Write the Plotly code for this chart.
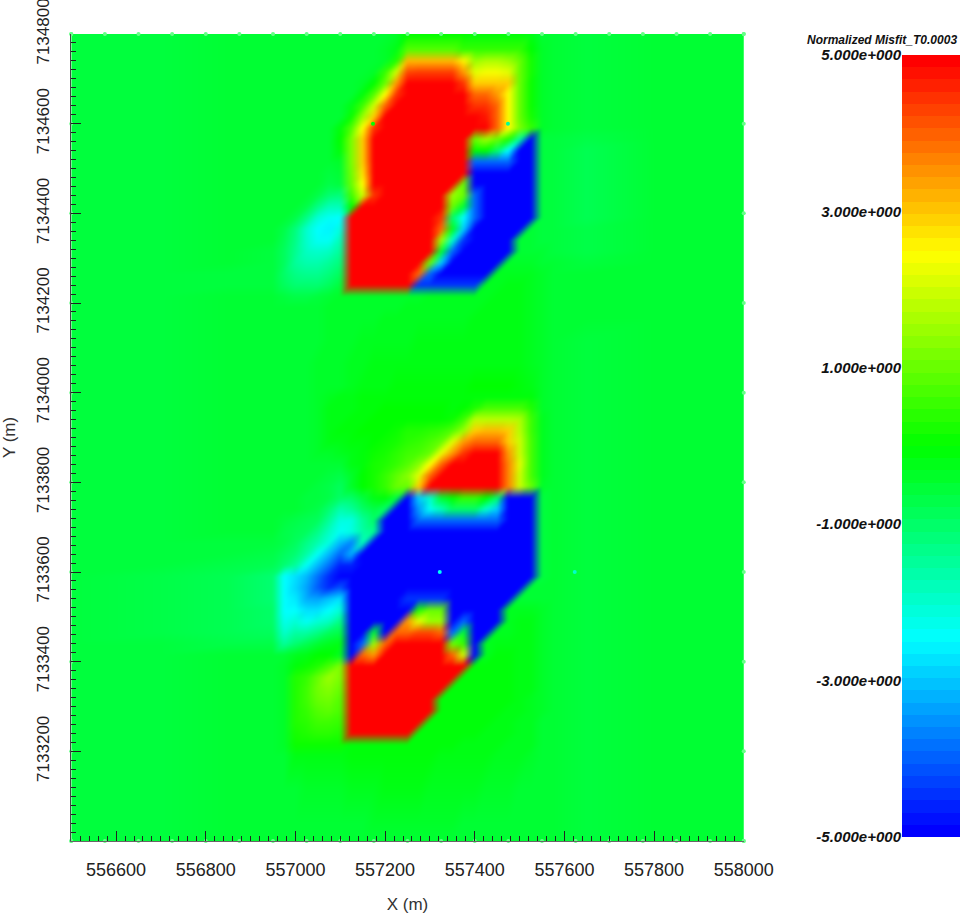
import numpy as np
import plotly.graph_objects as go

# Grid coordinates of the misfit field: coarse in the quiet margins, 25 m across the anomalies.
grid_x = [556500, 556700, 556850,
          556950, 556975, 557000, 557025, 557050, 557075,
          557100, 557125, 557150, 557175, 557200, 557225,
          557250, 557275, 557300, 557325, 557350, 557375,
          557400, 557425, 557450, 557475, 557500, 557525,
          557550, 557575,
          557650, 557800, 558000]

grid_y = [7134800, 7134765, 7134740, 7134715, 7134690, 7134665, 7134640, 7134615,
          7134590, 7134565, 7134540, 7134515, 7134490, 7134465, 7134440, 7134415,
          7134390, 7134365, 7134340, 7134315, 7134290, 7134265, 7134240, 7134215,
          7134190, 7134165, 7134115, 7134065, 7134015,
          7133990, 7133965, 7133940, 7133915, 7133890, 7133865, 7133840, 7133815,
          7133790, 7133765, 7133740, 7133715, 7133690, 7133665, 7133640, 7133615,
          7133590, 7133565, 7133540, 7133515, 7133490, 7133465, 7133440, 7133415,
          7133390, 7133365, 7133340, 7133315, 7133290, 7133265, 7133240, 7133215,
          7133190, 7133115, 7133040, 7133000]

# Normalized misfit, one row per grid_y entry, north to south.
misfit = [
[-.6,-.6,-.5, -.5,-.5,-.5,-.5,-.5,-.5, -.5,-.5,-.5,-.5,-.5,-.4, 0,0,0,0,0,0, -.1,-.1,-.1,-.1,-.1,-.2, -.5,-.5, -.6,-.5,-.5],
[-.6,-.6,-.5, -.5,-.5,-.5,-.5,-.5,-.5, -.5,-.5,-.5,-.5,-.4,-.2, .8,.8,.8,.8,.8,.5, .5,.5,.5,.5,.5,0, -.4,-.5, -.6,-.5,-.5],
[-.6,-.6,-.5, -.5,-.5,-.5,-.5,-.5,-.5, -.5,-.5,-.5,-.5,-.4,.3, 3.2,3.2,3.2,3.2,3.2,2.6, 1.5,1.7,1.7,1.5,1,.2, -.4,-.5, -.6,-.5,-.5],
[-.6,-.6,-.5, -.5,-.5,-.5,-.5,-.5,-.5, -.5,-.5,-.5,-.4,.5,2, 4.3,4.4,4.4,4.4,4.4,3.5, 2.2,2.4,2.4,2.2,1,.2, -.4,-.5, -.6,-.5,-.5],
[-.6,-.6,-.5, -.5,-.5,-.5,-.5,-.5,-.5, -.5,-.5,-.4,0,1,3.5, 5,5,5,5,5,4.5, 3,3,3,3,1,.1, -.4,-.5, -.6,-.5,-.5],
[-.6,-.6,-.5, -.5,-.5,-.5,-.5,-.5,-.5, -.5,-.5,-.1,.8,2.5,4.5, 5,5,5,5,5,5, 4,4,3.5,2.5,1,.1, -.4,-.5, -.6,-.5,-.5],
[-.6,-.6,-.5, -.5,-.5,-.5,-.5,-.5,-.5, -.5,-.2,.6,2,4,5, 5,5,5,5,5,5, 4.5,4.5,4,2.5,1,.1, -.4,-.5, -.6,-.5,-.5],
[-.6,-.6,-.5, -.5,-.5,-.5,-.5,-.5,-.5, -.5,.1,1.5,3,5,5, 5,5,5,5,5,5, 5,4.8,4,2.5,1,.2, -.4,-.5, -.6,-.5,-.5],
[-.6,-.6,-.5, -.5,-.5,-.5,-.5,-.5,-.5, -.1,.8,2.5,4.5,5,5, 5,5,5,5,5,5, 5,5,4,2.5,1.2,.5, -.4,-.5, -.6,-.5,-.5],
[-.6,-.6,-.5, -.5,-.5,-.5,-.5,-.5,-.5, 0,1.2,3,5,5,5, 5,5,5,5,5,5, 1,1.5,1,.3,-1.5,-5, -.6,-.6, -.7,-.5,-.5],
[-.6,-.6,-.5, -.5,-.5,-.5,-.5,-.5,-.5, -.1,1.2,3,5,5,5, 5,5,5,5,5,5, 0,0,-1,-2.5,-5,-5, -.6,-.6, -.8,-.5,-.5],
[-.6,-.6,-.5, -.5,-.5,-.5,-.5,-.5,-.5, -.4,1.2,3,5,5,5, 5,5,5,5,5,5, -4,-4,-4,-4,-5,-5, -.6,-.6, -.8,-.5,-.5],
[-.6,-.6,-.5, -.5,-.5,-.5,-.5,-.5,-.6, -.5,1.1,2.8,5,5,5, 5,5,5,5,5,5, -5,-5,-5,-5,-5,-5, -.6,-.6, -.8,-.5,-.5],
[-.6,-.6,-.5, -.5,-.5,-.5,-.5,-.5,-.7, -.6,1,2.5,5,5,5, 5,5,5,5,5,1, -5,-5,-5,-5,-5,-5, -.6,-.6, -.8,-.5,-.5],
[-.6,-.6,-.5, -.5,-.5,-.5,-.5,-.7,-1.1, -1.2,.6,2,4.5,5,5, 5,5,5,5,1.5,1, -4,-5,-5,-5,-5,-5, -.6,-.6, -.8,-.5,-.5],
[-.6,-.6,-.5, -.5,-.5,-.5,-.7,-1.3,-1.8, -1.8,0,5,5,5,5, 5,5,5,5,1,-.5, -4,-5,-5,-5,-5,-5, -.6,-.6, -.8,-.5,-.5],
[-.6,-.6,-.5, -.5,-.5,-.7,-1.3,-2.1,-2.4, -2.5,5,5,5,5,5, 5,5,5,4.5,-1,-2.5, -4,-5,-5,-5,-5,-5, -.6,-.6, -.8,-.5,-.5],
[-.6,-.6,-.5, -.5,-.7,-1.2,-2,-2.5,-2.6, -2.2,5,5,5,5,5, 5,5,5,4,-.3,-3, -5,-5,-5,-5,-5,-.5, -.6,-.6, -.7,-.5,-.5],
[-.6,-.6,-.5, -.5,-.8,-1.3,-2,-2.4,-2.4, -1.8,5,5,5,5,5, 5,5,5,1.5,-2,-4.5, -5,-5,-5,-5,-.5,-.5, -.6,-.6, -.7,-.5,-.5],
[-.6,-.6,-.5, -.6,-.9,-1.4,-1.9,-2,-1.9, -1.5,5,5,5,5,5, 5,5,5,-.5,-4,-5, -5,-5,-5,-5,-.5,-.5, -.5,-.6, -.7,-.5,-.5],
[-.6,-.6,-.5, -.6,-.9,-1.5,-1.7,-1.7,-1.5, -1.2,5,5,5,5,5, 5,5,1,-3,-5,-5, -5,-5,-5,-.4,-.4,-.4, -.5,-.5, -.6,-.5,-.5],
[-.6,-.6,-.6, -.6,-1,-1.3,-1.4,-1.4,-1.2, -.9,5,5,5,5,5, 5,4,-4,-5,-5,-5, -5,-5,-.3,-.3,-.3,-.3, -.4,-.5, -.5,-.5,-.5],
[-.6,-.6,-.6, -.6,-.9,-1.1,-1.1,-1.1,-.9, -.6,5,5,5,5,5, 5,-4.5,-4.5,-4.5,-4.5,-4.5, -4.5,-.3,-.3,-.2,-.2,-.3, -.4,-.5, -.5,-.5,-.5],
[-.6,-.6,-.5, -.5,-.6,-.7,-.7,-.6,-.5, -.4,-.4,-.4,-.4,-.4,-.4, -.4,-.4,-.3,-.3,-.3,-.3, -.3,-.3,-.2,-.2,-.2,-.3, -.4,-.5, -.5,-.5,-.5],
[-.6,-.6,-.5, -.5,-.5,-.5,-.5,-.5,-.4, -.4,-.4,-.4,-.4,-.4,-.4, -.3,-.3,-.3,-.3,-.3,-.3, -.3,-.2,-.2,-.2,-.2,-.3, -.4,-.5, -.5,-.5,-.5],
[-.6,-.6,-.5, -.5,-.5,-.5,-.5,-.5,-.4, -.4,-.4,-.4,-.4,-.3,-.3, -.3,-.3,-.3,-.3,-.3,-.3, -.2,-.2,-.2,-.2,-.2,-.3, -.4,-.5, -.5,-.5,-.5],
[-.6,-.6,-.5, -.5,-.5,-.5,-.5,-.5,-.4, -.4,-.4,-.3,-.3,-.3,-.3, -.3,-.2,-.2,-.2,-.2,-.2, -.2,-.2,-.2,-.2,-.2,-.3, -.4,-.5, -.6,-.5,-.5],
[-.6,-.6,-.5, -.5,-.5,-.5,-.5,-.4,-.4, -.4,-.3,-.3,-.2,-.2,-.2, -.2,-.2,-.2,-.2,-.2,-.2, -.2,-.2,-.2,-.2,-.2,-.3, -.4,-.5, -.6,-.5,-.5],
[-.6,-.6,-.5, -.5,-.5,-.5,-.5,-.4,-.4, -.4,-.3,-.2,-.2,-.2,-.1, -.1,-.1,-.1,-.1,-.1,-.1, 0,0,0,0,-.1,-.2, -.4,-.5, -.6,-.5,-.5],
[-.6,-.6,-.5, -.5,-.5,-.5,-.5,-.4,-.3, -.2,-.2,-.1,-.1,-.1,-.1, -.1,-.1,-.1,-.1,-.1,-.1, -.1,-.1,-.1,-.1,-.1,-.1, -.4,-.5, -.6,-.5,-.5],
[-.6,-.6,-.5, -.5,-.5,-.5,-.5,-.4,-.2, -.2,-.2,-.1,-.1,0,0, 0,0,0,0,-.1,0, .3,.7,.7,.7,.7,.3, -.4,-.5, -.6,-.5,-.5],
[-.6,-.6,-.5, -.5,-.5,-.5,-.5,-.4,-.2, -.2,-.1,-.1,0,0,0, 0,0,0,0,.1,.6, 1.8,1.8,1.8,1.8,1.7,.6, -.3,-.5, -.6,-.5,-.5],
[-.6,-.6,-.5, -.5,-.5,-.5,-.5,-.4,-.2, -.1,-.1,0,0,0,.1, .3,.3,.4,.5,.8,1.5, 3,3.2,3.2,3,1.8,.6, -.3,-.5, -.6,-.5,-.5],
[-.6,-.6,-.5, -.5,-.5,-.5,-.5,-.4,-.2, -.2,-.1,-.1,0,.1,.2, .4,.5,.7,1,2.2,3.5, 4,4,4,3,2,.7, -.3,-.5, -.6,-.5,-.5],
[-.6,-.6,-.5, -.5,-.5,-.5,-.5,-.4,-.4, -.3,-.2,-.1,.1,.2,.4, .6,.7,1,2.3,3.5,4.5, 5,5,5,3.5,2,.7, -.3,-.5, -.6,-.5,-.5],
[-.6,-.6,-.5, -.5,-.5,-.5,-.5,-.5,-.5, -.5,-.2,-.1,.2,.3,.5, .8,1.3,2.5,4,5,5, 5,5,5,3.7,2.2,.7, -.3,-.5, -.6,-.5,-.5],
[-.6,-.6,-.5, -.5,-.5,-.5,-.5,-.5,-.6, -.7,-.4,0,.2,.5,.9, 1.3,2.2,4,5,5,5, 5,5,5,3.7,2,.7, -.3,-.5, -.6,-.5,-.5],
[-.6,-.6,-.5, -.5,-.5,-.5,-.5,-.6,-.7, -.9,-.4,0,.2,.5,1, 1,3,5,5,5,5, 5,5,5,3.7,2,1, -.4,-.5, -.6,-.5,-.5],
[-.6,-.6,-.5, -.5,-.5,-.5,-.6,-.6,-.7, -1,-1,-.6,-.2,-.1,-.6, -5,-3,-2,-.5,0,.5, .5,0,-1,-5,-5,-5, -.6,-.5, -.6,-.5,-.5],
[-.6,-.6,-.5, -.5,-.5,-.5,-.6,-.7,-1.1, -1.7,-1.5,-1,-.7,-1,-5, -5,-3.5,-2.4,-1.8,-1,-1, -1,-2,-3,-5,-5,-5, -.6,-.5, -.6,-.5,-.5],
[-.6,-.6,-.5, -.5,-.6,-.7,-.8,-.9,-1.5, -2.2,-2.2,-1.5,-1,-5,-5, -5,-4,-4,-4,-4,-4, -4,-4,-4,-5,-5,-5, -.6,-.5, -.6,-.5,-.5],
[-.6,-.6,-.5, -.5,-.7,-.8,-.9,-1.3,-1.9, -2.4,-2.2,-1.6,-1.4,-5,-5, -5,-5,-5,-5,-5,-5, -5,-5,-5,-5,-5,-5, -.6,-.5, -.6,-.5,-.5],
[-.6,-.6,-.6, -.6,-.7,-.9,-1.3,-1.7,-2.2, -3.2,-3.7,-1.8,-5,-5,-5, -5,-5,-5,-5,-5,-5, -5,-5,-5,-5,-5,-5, -.6,-.5, -.6,-.5,-.5],
[-.6,-.6,-.6, -.7,-.9,-1.1,-1.6,-2.4,-3.2, -4,-3.3,-5,-5,-5,-5, -5,-5,-5,-5,-5,-5, -5,-5,-5,-5,-5,-5, -.6,-.5, -.6,-.5,-.5],
[-.6,-.6,-.7, -.8,-1.1,-1.5,-2.4,-3.2,-3.9, -4.7,-4.7,-5,-5,-5,-5, -5,-5,-5,-5,-5,-5, -5,-5,-5,-5,-5,-5, -.6,-.5, -.6,-.5,-.5],
[-.6,-.7,-.8, -1.1,-2.5,-2.8,-3.2,-3.9,-4.6, -5,-5,-5,-5,-5,-5, -5,-5,-5,-5,-5,-5, -5,-5,-5,-5,-5,-5, -.6,-.5, -.6,-.5,-.5],
[-.6,-.7,-.8, -1.1,-2.5,-2.9,-3.4,-4.1,-4.6, -4.2,-5,-5,-5,-5,-5, -5,-5,-5,-5,-5,-5, -5,-5,-5,-5,-5,-.5, -.5,-.5, -.6,-.5,-.5],
[-.6,-.7,-.8, -1.1,-2.5,-2.7,-3.3,-3.4,-3.1, -2.8,-5,-5,-5,-5,-5, -4.5,-4.5,-4.5,-4.5,-5,-5, -5,-5,-5,-5,-.5,-.5, -.5,-.5, -.6,-.5,-.5],
[-.6,-.7,-.8, -1,-2.5,-2.5,-2.8,-2.8,-2.5, -2.1,-5,-5,-5,-5,-5, -5,.3,1,1,-5,-5, -5,-5,-5,-.3,-.3,-.3, -.4,-.5, -.6,-.5,-.5],
[-.6,-.7,-.8, -1,-2.3,-2.1,-2.4,-2.1,-1.9, -1.3,-5,-5,-5,-5,-5, 3.5,2.2,1.5,1.5,-5,-4, -5,-5,-5,-.3,-.2,-.2, -.4,-.5, -.6,-.5,-.5],
[-.6,-.7,-.8, -.9,-2,-1.6,-1.6,-1.3,-.9, -.7,-5,-5,-.5,-5,4, 4,4.3,4.3,4,-4,-.5, -5,-5,-.3,-.3,-.2,-.2, -.4,-.5, -.6,-.5,-.5],
[-.6,-.6,-.7, -.7,-1.5,-1.1,-.8,-.5,-.3, -.2,-5,-4,1.5,4,5, 5,5,5,5,1,.5, -5,-.3,-.2,-.2,-.2,-.2, -.4,-.5, -.6,-.5,-.5],
[-.6,-.6,-.5, -.5,-.5,-.3,-.2,0,0, -.3,-5,4,3.5,5,5, 5,5,5,5,4,2, -5,-.3,-.1,-.1,-.2,-.2, -.4,-.5, -.6,-.5,-.5],
[-.6,-.6,-.5, -.5,-.4,-.1,.1,.3,.7, 1.2,5,5,5,5,5, 5,5,5,5,5,5, -.1,-.1,-.1,-.1,-.2,-.2, -.4,-.5, -.6,-.5,-.5],
[-.6,-.6,-.5, -.5,-.4,.3,.5,1,1.5, 1.2,5,5,5,5,5, 5,5,5,5,5,-.1, -.1,-.1,-.1,-.1,-.2,-.2, -.4,-.5, -.6,-.5,-.5],
[-.6,-.6,-.5, -.5,-.4,.3,.6,1.1,1.3, 1,5,5,5,5,5, 5,5,5,5,-.1,-.1, -.1,-.1,-.1,-.1,-.2,-.2, -.4,-.5, -.6,-.5,-.5],
[-.6,-.6,-.5, -.5,-.4,.3,.6,1,1.1, .8,5,5,5,5,5, 5,5,5,-.1,-.1,-.1, -.1,-.1,-.1,-.1,-.2,-.3, -.4,-.5, -.6,-.5,-.5],
[-.6,-.6,-.5, -.5,-.4,.3,.5,.8,.9, .7,5,5,5,5,5, 5,5,5,-.1,-.1,-.1, -.1,-.1,-.1,-.2,-.2,-.3, -.4,-.5, -.6,-.5,-.5],
[-.6,-.6,-.5, -.5,-.4,.3,.4,.6,.6, .5,5,5,5,5,5, 5,5,-.1,-.1,-.1,-.1, -.1,-.1,-.2,-.2,-.3,-.3, -.5,-.5, -.6,-.5,-.5],
[-.6,-.6,-.5, -.5,-.4,.2,.3,.4,.4, .3,5,5,5,5,5, 5,-.1,-.1,-.1,-.1,-.1, -.1,-.2,-.2,-.2,-.3,-.3, -.5,-.5, -.6,-.5,-.5],
[-.6,-.6,-.5, -.5,-.4,.1,.1,.1,.1, .1,-.1,-.1,-.1,-.1,-.1, -.1,-.1,-.1,-.1,-.1,-.2, -.2,-.2,-.2,-.3,-.3,-.3, -.5,-.5, -.6,-.5,-.5],
[-.6,-.6,-.5, -.5,-.5,-.2,-.2,-.2,-.2, -.2,-.1,-.1,-.1,-.1,-.1, -.1,-.1,-.1,-.2,-.2,-.2, -.2,-.2,-.3,-.3,-.3,-.4, -.5,-.5, -.6,-.5,-.5],
[-.6,-.6,-.5, -.5,-.5,-.5,-.4,-.4,-.4, -.4,-.3,-.3,-.3,-.2,-.2, -.2,-.2,-.3,-.3,-.3,-.3, -.3,-.4,-.4,-.4,-.5,-.5, -.5,-.5, -.6,-.5,-.5],
[-.6,-.6,-.5, -.5,-.5,-.5,-.5,-.5,-.5, -.5,-.5,-.5,-.4,-.4,-.4, -.4,-.4,-.4,-.4,-.4,-.5, -.5,-.5,-.5,-.5,-.5,-.5, -.5,-.5, -.6,-.5,-.5],
[-.6,-.6,-.5, -.5,-.5,-.5,-.5,-.5,-.5, -.5,-.5,-.5,-.5,-.5,-.5, -.5,-.5,-.5,-.5,-.5,-.5, -.5,-.5,-.5,-.5,-.5,-.5, -.5,-.5, -.6,-.5,-.5],
]

# Station dots: along the survey edges, plus the four interior stations with their own misfit.
edge_x = [556500, 556575, 556650, 556725, 556800, 556875, 556950, 557025, 557100, 557175, 557250,
          557325, 557400, 557475, 557550, 557625, 557700, 557775, 557850, 557925, 558000]
edge_y = [7133000, 7133200, 7133400, 7133600, 7133800, 7134000, 7134200, 7134400, 7134600, 7134800]
inner_x = [557173, 557474, 557322, 557623]
inner_y = [7134600, 7134600, 7133600, 7133600]
inner_misfit = [0, -1.5, -2.4, -2]

x_ticks = [556600, 556800, 557000, 557200, 557400, 557600, 557800, 558000]
y_ticks = [7133200, 7133400, 7133600, 7133800, 7134000, 7134200, 7134400, 7134600, 7134800]
bar_ticks = [-5, -3, -1, 1, 3, 5]
bar_labels = ["-5.000e+000", "-3.000e+000", "-1.000e+000", "1.000e+000", "3.000e+000", "5.000e+000"]
bar_title = "Normalized Misfit_T0.0003"

rainbow_stops = [0, 0.25, 0.5, 0.75, 1]
rainbow_rgb = [(0, 0, 255), (0, 255, 255), (0, 255, 0), (255, 255, 0), (255, 0, 0)]
rainbow = [[s, f"rgb{c}"] for s, c in zip(rainbow_stops, rainbow_rgb)]

W, H = 960, 914
PLOT_L, PLOT_R, PLOT_T, PLOT_B = 71, 744, 34, 841
X_FONT = dict(family="Liberation Sans", size=18, color="#222222")
Y_FONT = dict(family="Liberation Sans", size=17, color="#222222")
BAR_FONT = dict(family="Liberation Sans", size=15, color="#111111", style="italic", weight="bold")
TITLE_FONT = dict(family="Liberation Sans", size=17, color="#333333")
TICK = "#222222"


def soften(rgb):
    """Short triangular filter along both image axes, easing the cell edges."""
    kernel = np.array([1, 2, 3, 4, 3, 2, 1], float) / 16
    pad = len(kernel) // 2
    for axis in (0, 1):
        widths = [(0, 0)] * 3
        widths[axis] = (pad, pad)
        padded = np.pad(rgb, widths, mode="edge")
        rgb = np.apply_along_axis(lambda line: np.convolve(line, kernel, mode="valid"), axis, padded)
    return rgb


def shaded_field():
    """Colour each node, then shade every grid cell as two triangles in RGB,
    the way a rendered surface mesh blends its vertex colours."""
    gx = np.array(grid_x, float)
    gy = np.array(grid_y[::-1], float)
    values = np.array(misfit[::-1], float)
    t = (values + 5) / 10
    node_rgb = np.stack([np.interp(t, rainbow_stops, [c[k] for c in rainbow_rgb]) for k in range(3)], axis=-1)

    nx, ny = PLOT_R - PLOT_L, PLOT_B - PLOT_T
    dx = (gx[-1] - gx[0]) / nx
    dy = (gy[-1] - gy[0]) / ny
    px = gx[0] + dx * (np.arange(nx) + 0.5)
    py = gy[0] + dy * (np.arange(ny) + 0.5)
    i = np.clip(np.searchsorted(gx, px) - 1, 0, len(gx) - 2)
    j = np.clip(np.searchsorted(gy, py) - 1, 0, len(gy) - 2)
    u = ((px - gx[i]) / (gx[i + 1] - gx[i]))[None, :, None]
    v = ((py - gy[j]) / (gy[j + 1] - gy[j]))[:, None, None]
    ii, jj = np.meshgrid(i, j)
    c00 = node_rgb[jj, ii]
    c10 = node_rgb[jj, ii + 1]
    c01 = node_rgb[jj + 1, ii]
    c11 = node_rgb[jj + 1, ii + 1]
    lower = c00 + u * (c10 - c00) + v * (c11 - c10)
    upper = c00 + v * (c01 - c00) + u * (c11 - c01)
    rgb = soften(np.where(u >= v, lower, upper))
    return np.round(rgb).astype(int), gx[0] + dx / 2, gy[0] + dy / 2, dx, dy


rgb, x_first, y_first, x_step, y_step = shaded_field()

fig = go.Figure()

fig.add_trace(go.Image(
    z=rgb.tolist(), x0=x_first, y0=y_first, dx=x_step, dy=y_step,
    xaxis="x", yaxis="y", hoverinfo="skip",
))

edge_color = "#66ff88"
fig.add_trace(go.Scatter(
    x=edge_x + edge_x + [edge_x[0]] * len(edge_y) + [edge_x[-1]] * len(edge_y),
    y=[edge_y[-1]] * len(edge_x) + [edge_y[0]] * len(edge_x) + edge_y + edge_y,
    mode="markers", marker=dict(size=4, color=edge_color), cliponaxis=False,
    showlegend=False, xaxis="x", yaxis="y",
))
fig.add_trace(go.Scatter(
    x=inner_x, y=inner_y, mode="markers",
    marker=dict(size=4, color=inner_misfit, colorscale=rainbow, cmin=-5, cmax=5),
    showlegend=False, xaxis="x", yaxis="y",
))

# Banded scale bar, 64 levels, labelled on its left side.
bar_levels = np.linspace(-5, 5, 64)
bar_edges = np.linspace(-5, 5, 65)
fig.add_trace(go.Heatmap(
    x=[0, 1], y=bar_edges, z=[[v] for v in bar_levels],
    zmin=-5, zmax=5, colorscale=rainbow, showscale=False,
    xaxis="x2", yaxis="y2",
))

fig.update_layout(
    template="none",
    width=W, height=H, margin=dict(l=0, r=0, t=0, b=0),
    paper_bgcolor="white", plot_bgcolor="white", showlegend=False,
    xaxis=dict(
        domain=[PLOT_L / W, PLOT_R / W], range=[556500, 558000], tickmode="array",
        tickvals=x_ticks, tickformat="d", ticks="inside", ticklen=10, tickwidth=1, tickcolor=TICK,
        minor=dict(ticks="inside", dtick=20, tick0=556500, ticklen=5, tickwidth=1, tickcolor=TICK),
        showgrid=False, zeroline=False, showline=True, linecolor="#666666", linewidth=1,
        tickfont=X_FONT, ticklabelstandoff=12, automargin=False,
        title=dict(text="X (m)", font=TITLE_FONT, standoff=20),
    ),
    yaxis=dict(
        domain=[1 - PLOT_B / H, 1 - PLOT_T / H], range=[7133000, 7134800], tickmode="array",
        tickvals=y_ticks, tickformat="d", ticks="inside", ticklen=10, tickwidth=1, tickcolor=TICK,
        minor=dict(ticks="inside", dtick=20, tick0=7133000, ticklen=5, tickwidth=1, tickcolor=TICK),
        showgrid=False, zeroline=False, showline=True, linecolor="#444444", linewidth=1,
        tickfont=Y_FONT, tickangle=-90, ticklabelstandoff=14, automargin=False,
        ticklabeloverflow="allow",
        title=dict(text="Y (m)", font=TITLE_FONT, standoff=15),
    ),
    xaxis2=dict(domain=[902 / W, 1], range=[0, 1], anchor="y2", visible=False),
    yaxis2=dict(
        domain=[1 - 837 / H, 1 - 55 / H], range=[-5, 5], anchor="x2", side="left",
        tickmode="array", tickvals=bar_ticks, ticktext=bar_labels, ticks="",
        showgrid=False, zeroline=False, showline=False, tickfont=BAR_FONT, automargin=False,
    ),
    annotations=[dict(
        text=bar_title, xref="paper", yref="paper", x=0.999, y=1 - 40 / H,
        xanchor="right", yanchor="middle", showarrow=False,
        font=dict(family="Liberation Sans", size=12, color="#111111", style="italic", weight="bold"),
    )],
)

fig.write_html("out.html")
